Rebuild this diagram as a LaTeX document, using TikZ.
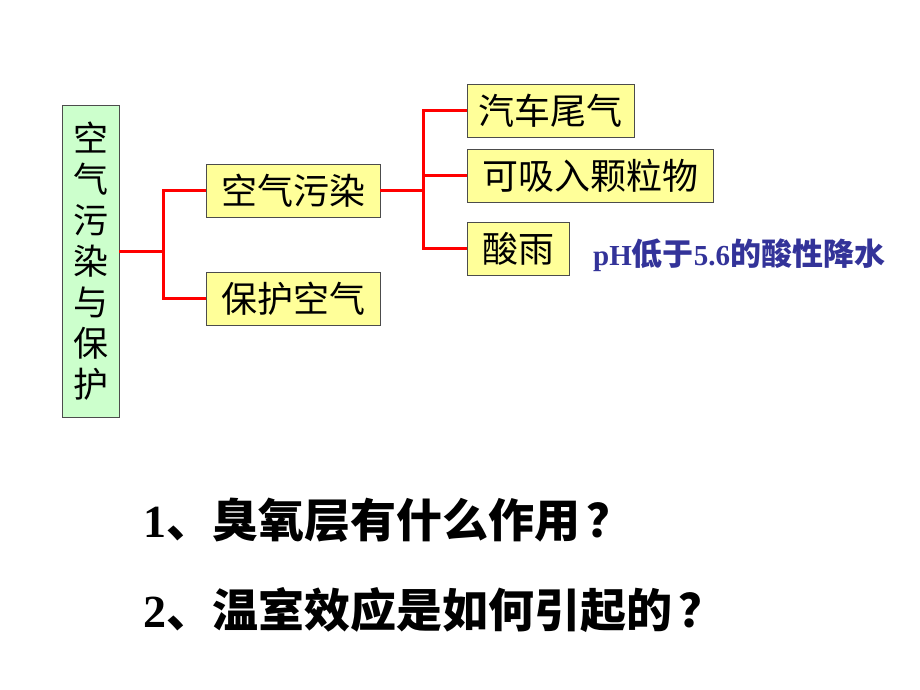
\documentclass[tikz,border=0pt]{standalone}
\usepackage{fontspec}
\setmainfont{Liberation Serif}
\newfontfamily\cjk{Noto Sans CJK SC}
\usepackage{xcolor}
\usetikzlibrary{positioning}
\definecolor{boxyellow}{HTML}{FFFF99}
\definecolor{boxgreen}{HTML}{CCFFCC}
\definecolor{notblue}{HTML}{333399}
\tikzstyle{topic} = [rectangle, draw=black!70, fill=boxgreen, minimum width=57pt, minimum height=312pt, inner sep=0pt, align=center, font=\fontsize{35}{41}\selectfont\cjk]
\tikzstyle{item} = [rectangle, draw=black!70, fill=boxyellow, minimum height=53pt, inner sep=0pt, text centered, font=\fontsize{36}{40}\selectfont\cjk]
\tikzstyle{branch} = [draw=red, line width=3pt]
\tikzstyle{question} = [anchor=west, inner sep=0pt, font=\fontsize{46}{50}\selectfont\bfseries]

\begin{document}
\begin{tikzpicture}[x=1pt, y=-1pt]
   \useasboundingbox (0,0) rectangle (920,690);
   \node (root) [topic] at (90.5,261) {空\\气\\污\\染\\与\\保\\护};
   \node (pollute) [item, minimum width=174pt] at (293,190.5) {空气污染};
   \node (protect) [item, minimum width=174pt] at (293,298.5) {保护空气};
   \node (exhaust) [item, minimum width=167pt] at (550.5,110.5) {汽车尾气};
   \node (particle) [item, minimum width=246pt] at (590,175.5) {可吸入颗粒物};
   \node (acidrain) [item, minimum width=102pt] at (518,248.5) {酸雨};
   \node (note) [anchor=west, inner sep=0pt, text=notblue, font=\fontsize{29}{32}\selectfont] at (593,255)
      {\bfseries pH{\cjk\fontsize{31}{32}\selectfont 低于}5.6{\cjk\fontsize{31}{32}\selectfont 的酸性降水}};
   \node (q1) [question] at (143,520) {1{\cjk 、臭氧层有什么作用\kern6pt？}};
   \node (q2) [question] at (143,610) {2{\cjk 、温室效应是如何引起的\kern6pt？}};
   \coordinate (j1) at (163,251);
   \draw [branch] (root.east |- j1) -- (j1);
   \draw [branch] (pollute.west) -| (j1) |- (protect.west);
   \draw [branch] (pollute.east) -- ++(43,0) coordinate (j2);
   \draw [branch] (exhaust.west) -| (j2) |- (acidrain.west);
   \draw [branch] (particle.west) -- (particle.west -| j2);
\end{tikzpicture}
\end{document}
